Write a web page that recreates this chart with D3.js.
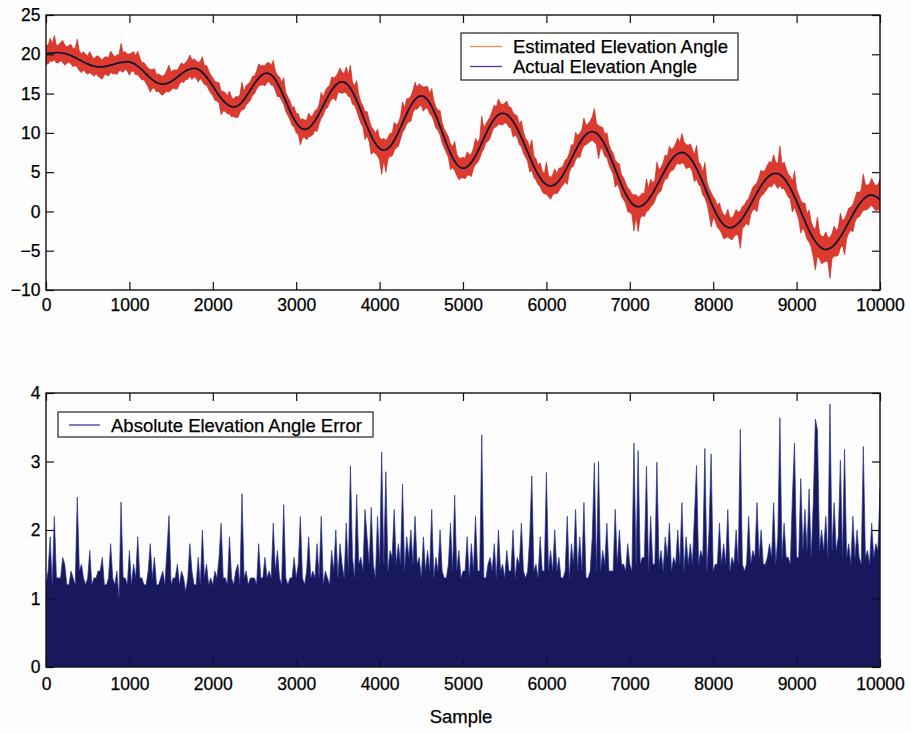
<!DOCTYPE html>
<html><head><meta charset="utf-8">
<script src="https://cdn.jsdelivr.net/npm/d3@7"></script>
<style>
body{margin:0;background:#fdfdfd}
svg text{font-family:"Liberation Sans",Arial,Helvetica,sans-serif;fill:#000;stroke:#000;stroke-width:0.25px}
</style>
</head><body>
<svg id="chart" width="911" height="734"></svg>
<script>
// ---------- data ----------
const sampleStep = 25;
const xTicks = [0,1000,2000,3000,4000,5000,6000,7000,8000,9000,10000];
const topYTicks = [-10,-5,0,5,10,15,20,25];
const bottomYTicks = [0,1,2,3,4];
const legendTop = ["Estimated Elevation Angle","Actual Elevation Angle"];
const legendBottom = ["Absolute Elevation Angle Error"];
const xLabel = "Sample";

// actual elevation angle, one value every 25 samples (0 .. 10000)
const actualAngle = [
20.10,20.12,20.15,20.17,20.19,20.20,20.20,
20.19,20.16,20.10,20.03,19.94,19.83,19.71,19.58,19.44,19.30,19.16,19.02,18.89,18.77,18.66,18.57,18.50,18.44,18.41,18.40,
18.41,18.44,18.48,18.54,18.61,18.69,18.76,18.84,18.91,18.97,19.01,19.04,19.05,
19.03,18.95,18.84,18.68,18.48,18.26,18.02,17.76,17.49,17.23,16.99,16.77,16.57,16.41,16.30,16.23,16.20,
16.22,16.29,16.39,16.53,16.70,16.89,17.10,17.30,17.51,17.70,17.87,18.01,18.11,18.18,18.20,
18.17,18.07,17.90,17.68,17.41,17.09,16.73,16.35,15.95,15.55,15.15,14.77,14.41,14.09,13.82,13.60,13.43,13.33,13.30,
13.34,13.46,13.66,13.93,14.26,14.63,15.03,15.45,15.87,16.27,16.64,16.97,17.24,17.44,17.56,17.60,
17.55,17.38,17.12,16.76,16.32,15.81,15.25,14.65,14.03,13.40,12.80,12.24,11.73,11.29,10.93,10.67,10.50,10.45,
10.50,10.63,10.86,11.16,11.53,11.96,12.44,12.95,13.48,14.00,14.51,14.99,15.42,15.79,16.09,16.32,16.45,16.50,
16.45,16.29,16.03,15.67,15.23,14.71,14.12,13.49,12.83,12.15,11.47,10.81,10.18,9.59,9.07,8.63,8.27,8.01,7.85,7.80,
7.85,8.01,8.26,8.61,9.03,9.53,10.07,10.65,11.25,11.85,12.43,12.98,13.47,13.89,14.24,14.49,14.65,14.70,
14.64,14.47,14.20,13.82,13.35,12.80,12.19,11.52,10.82,10.10,9.38,8.68,8.01,7.40,6.85,6.38,6.00,5.73,5.56,5.50,
5.55,5.69,5.92,6.24,6.63,7.09,7.59,8.14,8.71,9.29,9.86,10.41,10.91,11.37,11.76,12.08,12.31,12.45,12.50,
12.46,12.33,12.12,11.83,11.46,11.03,10.54,10.00,9.42,8.81,8.19,7.55,6.93,6.32,5.74,5.20,4.71,4.28,3.91,3.62,3.41,3.28,3.24,
3.28,3.41,3.62,3.90,4.25,4.66,5.13,5.63,6.15,6.70,7.24,7.76,8.26,8.73,9.14,9.49,9.77,9.98,10.11,10.15,
10.10,9.96,9.72,9.39,8.98,8.50,7.96,7.36,6.72,6.05,5.38,4.70,4.03,3.39,2.79,2.25,1.77,1.36,1.03,0.79,0.65,0.60,
0.64,0.75,0.94,1.20,1.52,1.90,2.33,2.79,3.28,3.79,4.31,4.82,5.31,5.78,6.20,6.58,6.90,7.16,7.35,7.46,7.50,
7.46,7.32,7.10,6.80,6.43,5.98,5.47,4.92,4.32,3.69,3.04,2.39,1.74,1.11,0.51,-0.04,-0.55,-1.00,-1.37,-1.67,-1.89,-2.03,-2.07,
-2.03,-1.93,-1.76,-1.52,-1.23,-0.88,-0.48,-0.05,0.42,0.90,1.39,1.88,2.36,2.83,3.26,3.66,4.01,4.30,4.54,4.71,4.81,4.85,
4.81,4.69,4.48,4.20,3.85,3.43,2.96,2.43,1.86,1.26,0.64,0.01,-0.62,-1.24,-1.84,-2.41,-2.94,-3.41,-3.83,-4.18,-4.46,-4.67,-4.79,-4.83,
-4.80,-4.69,-4.52,-4.28,-3.99,-3.64,-3.24,-2.81,-2.34,-1.86,-1.37,-0.88,-0.40,0.07,0.50,0.90,1.25,1.54,1.78,1.95,2.06,2.09,
2.02,1.90,1.72,1.50
];

// largest estimate excursion ABOVE the actual angle within each 25-sample bin (deg)
const errorAbove = [
1.1,1.0,1.9,1.2,2.2,0.9,1.0,1.3,1.6,1.1,0.9,1.2,1.4,1.0,1.2,2.48,1.1,0.9,1.3,1.1,
1.0,1.7,1.2,0.9,1.3,1.4,1.1,0.9,1.2,1.2,1.0,1.8,1.3,0.9,1.1,1.0,2.41,1.2,1.3,1.0,
1.0,1.2,1.5,1.1,1.9,1.3,0.9,1.2,1.1,1.0,1.1,1.3,1.6,1.0,1.2,1.1,1.0,1.2,1.7,2.21,
1.2,1.3,1.1,0.9,1.2,1.4,1.0,1.1,1.3,1.8,1.1,1.2,1.0,0.9,1.2,2.0,1.1,1.5,1.2,1.0,
1.1,1.0,1.3,1.6,0.9,1.2,1.3,1.1,1.9,1.2,1.0,1.3,1.1,1.2,2.53,1.0,1.4,1.2,1.1,1.3,
1.0,1.2,1.8,1.3,1.1,1.0,1.3,1.4,1.2,2.1,1.1,1.0,1.3,1.2,2.37,1.1,1.2,1.3,1.0,1.6,
1.2,1.5,1.0,1.3,1.2,1.1,1.9,1.2,1.1,1.3,1.0,1.2,2.2,1.1,1.4,1.3,1.0,1.7,1.2,1.1,
1.3,1.8,1.2,1.1,2.1,1.4,2.94,1.2,1.3,2.52,1.4,1.1,1.3,1.2,1.9,1.5,1.2,1.4,1.3,2.2,
1.4,1.3,1.5,1.2,1.4,1.7,1.3,2.3,1.5,1.2,1.4,2.67,1.3,1.9,1.4,1.2,1.5,2.2,1.3,1.6,
1.3,1.2,1.4,1.7,1.2,2.3,1.3,1.1,1.4,2.0,1.2,1.1,1.3,1.5,1.2,1.4,2.51,1.3,1.1,1.2,
1.4,1.2,1.9,1.3,1.1,1.4,2.2,1.2,1.1,3.39,1.3,1.3,1.2,1.1,1.4,1.8,1.2,2.0,1.3,1.1,
1.3,1.7,1.2,1.4,1.1,1.3,1.6,1.2,2.1,1.3,1.1,1.4,1.2,2.79,1.3,1.5,1.2,1.9,1.3,1.1,
2.84,1.3,1.1,1.4,2.0,1.2,1.6,1.3,1.2,1.4,1.1,1.3,1.8,1.2,2.3,1.4,1.2,1.3,2.4,1.2,
1.2,1.4,1.9,2.98,1.3,1.2,1.4,1.7,1.3,2.1,1.2,1.1,1.4,1.2,1.5,2.0,1.3,1.5,1.4,1.2,
1.4,1.2,1.3,1.5,1.2,1.4,1.6,1.3,2.93,1.4,2.2,1.3,1.2,2.99,1.5,1.3,1.4,1.9,1.2,2.1,
1.3,1.2,1.5,2.0,1.3,2.4,1.4,1.2,1.3,1.8,1.5,1.2,2.94,1.4,1.7,1.3,3.19,1.4,1.2,1.3,
1.4,1.5,1.3,2.1,1.5,1.2,1.4,2.3,1.3,1.2,1.5,2.0,1.4,1.3,1.5,1.3,1.4,1.2,1.5,1.7,
1.5,1.3,1.6,2.0,1.4,1.3,1.6,1.8,1.5,2.4,1.4,1.3,3.64,1.5,2.1,1.6,1.3,1.5,1.4,3.27,
1.6,1.5,1.4,1.7,2.3,1.5,2.6,1.6,1.4,1.5,3.46,1.7,1.5,1.6,2.2,1.5,1.4,1.7,2.4,1.6,
1.5,3.02,1.6,1.4,1.5,1.8,1.4,1.3,1.6,2.0,1.5,1.5,3.22,1.6,1.4,1.5,2.1,1.6,1.4,1.7,
2.6
];

// largest estimate excursion BELOW the actual angle within each 25-sample bin (deg)
const errorBelow = [
1.2,1.4,1.0,1.1,0.9,1.3,1.3,1.0,1.2,1.5,1.2,0.9,1.1,1.3,1.0,1.1,1.4,1.5,1.0,1.2,
1.3,1.0,1.1,1.3,0.9,1.2,1.4,1.6,1.0,1.1,1.3,0.9,1.2,1.2,1.4,1.0,1.1,1.3,0.9,1.2,
1.7,1.1,1.0,1.3,1.1,1.2,1.3,1.0,1.2,1.4,1.8,1.1,0.9,1.2,1.0,1.3,1.4,1.1,1.0,1.2,
1.1,1.0,1.3,1.5,1.1,1.0,1.3,1.1,1.2,0.9,1.4,1.1,1.2,1.6,1.0,1.1,1.3,1.0,1.2,1.3,
1.2,1.4,1.1,1.0,2.1,1.3,1.1,1.2,1.0,1.3,1.2,1.4,1.5,1.1,1.0,1.3,1.1,1.2,1.3,1.1,
1.3,1.1,1.0,1.2,1.3,1.6,1.2,1.0,1.3,1.1,1.4,1.7,1.2,1.1,1.0,1.3,1.2,1.1,1.3,1.0,
1.3,1.1,2.2,1.2,1.0,1.4,1.1,1.3,1.4,1.2,1.8,1.3,1.1,1.2,1.0,1.3,1.2,1.1,1.4,2.0,
1.2,1.3,1.5,1.3,1.2,1.4,1.1,1.6,1.2,1.3,1.5,1.6,1.4,2.3,1.2,1.3,2.33,1.5,1.3,1.2,
1.5,3.14,1.3,2.85,1.4,1.2,1.6,1.3,1.4,1.8,1.5,1.2,1.4,1.3,1.6,2.0,1.3,1.2,1.5,1.3,
1.2,1.9,1.3,1.1,1.4,1.2,1.3,1.6,1.2,1.1,1.4,1.3,1.2,1.1,2.1,1.3,1.2,1.4,1.7,1.3,
1.2,1.4,1.1,1.3,1.8,1.2,1.1,1.4,1.4,1.2,1.3,1.1,1.5,1.6,1.2,1.1,1.3,1.2,1.4,1.5,
1.2,1.1,1.4,1.2,2.0,1.3,1.1,1.5,1.2,1.4,1.3,1.2,1.9,1.1,1.4,1.2,1.3,1.1,1.4,1.4,
1.2,1.4,1.7,1.2,1.1,1.4,1.3,1.2,1.3,1.4,2.2,1.2,1.1,1.5,1.2,1.3,1.9,1.4,1.1,1.3,
1.3,1.2,1.1,1.3,1.4,3.0,1.3,1.2,1.5,1.1,1.4,1.4,1.3,2.3,1.2,1.1,1.5,1.3,1.2,1.8,
1.5,1.4,3.27,1.3,3.16,1.5,1.3,1.6,1.2,1.4,1.3,1.5,1.5,1.2,1.4,1.7,1.3,1.2,1.6,1.3,
1.4,1.6,1.3,1.2,1.5,1.3,1.4,1.9,1.5,1.2,1.4,2.2,1.3,1.5,1.2,1.6,1.3,1.4,2.0,3.11,
1.3,1.2,1.5,1.3,1.4,1.8,1.5,1.2,1.4,1.6,1.3,1.2,1.5,3.47,1.3,1.4,1.5,2.2,1.3,1.2,
1.6,2.4,1.4,1.3,1.5,1.5,1.4,1.3,1.6,1.2,1.5,1.9,1.4,1.6,1.3,1.5,1.6,1.4,2.5,1.3,
1.5,1.6,2.75,1.5,1.4,1.7,1.5,1.6,2.4,3.62,1.5,1.6,2.0,1.7,1.5,1.6,3.84,1.5,1.4,1.7,
1.9,1.4,1.5,3.18,1.6,1.4,1.5,2.2,1.4,1.3,1.6,1.5,1.4,1.6,1.7,1.5,1.3,1.6,1.8,1.5,
1.4
];

// ---------- derived ----------
const n = Math.min(actualAngle.length, errorAbove.length, errorBelow.length);
const rows = d3.range(n).map(i => ({
  sample: i * sampleStep,
  actual: actualAngle[i],
  estHigh: actualAngle[i] + errorAbove[i],
  estLow: actualAngle[i] - errorBelow[i],
  absErr: Math.max(errorAbove[i], errorBelow[i])
}));

// ---------- layout ----------
const svg = d3.select("#chart");
const L = 46, R = 880;
const top1 = 15, bot1 = 290;
const top2 = 393, bot2 = 667;
const tick = 8;

const x = d3.scaleLinear().domain([0, 10000]).range([L, R]);
const y1 = d3.scaleLinear().domain([-10, 25]).range([bot1, top1]);
const y2 = d3.scaleLinear().domain([0, 4]).range([bot2, top2]);

const defs = svg.append("defs");
defs.append("clipPath").attr("id","clip1").append("rect")
  .attr("x", L).attr("y", top1).attr("width", R-L).attr("height", bot1-top1);
defs.append("clipPath").attr("id","clip2").append("rect")
  .attr("x", L).attr("y", top2).attr("width", R-L).attr("height", bot2-top2);

// ---------- top panel ----------
const g1 = svg.append("g").attr("clip-path","url(#clip1)");
g1.append("path").datum(rows)
  .attr("fill","#dc3a2f").attr("stroke","#c92d24").attr("stroke-width",0.7)
  .attr("stroke-linejoin","bevel")
  .attr("d", d3.area().x(d => x(d.sample)).y0(d => y1(d.estLow)).y1(d => y1(d.estHigh)));
g1.append("path").datum(rows)
  .attr("fill","none").attr("stroke","#161630").attr("stroke-width",1.8)
  .attr("d", d3.line().curve(d3.curveMonotoneX).x(d => x(d.sample)).y(d => y1(d.actual)));

// ---------- bottom panel ----------
const g2 = svg.append("g").attr("clip-path","url(#clip2)");
g2.append("path").datum(rows)
  .attr("fill","#18185c").attr("stroke","#27338e").attr("stroke-width",0.7)
  .attr("stroke-linejoin","bevel")
  .attr("d", d3.area().x(d => x(d.sample)).y0(y2(0)).y1(d => y2(d.absErr)));

// ---------- axes ----------
function styleAxis(g){
  g.select(".domain").remove();
  g.selectAll(".tick line").attr("stroke","#111").attr("stroke-width",1.2);
  g.selectAll(".tick text").attr("font-size","17.5px");
}
function frame(top, bot, yScale, yTicks, xPad){
  svg.append("g").attr("transform",`translate(0,${bot})`)
    .call(d3.axisBottom(x).tickValues(xTicks).tickSizeInner(-tick).tickSizeOuter(0).tickPadding(xPad).tickFormat(d3.format("d")))
    .call(styleAxis);
  svg.append("g").attr("transform",`translate(0,${top})`)
    .call(d3.axisTop(x).tickValues(xTicks).tickSizeInner(-tick).tickSizeOuter(0).tickFormat(""))
    .call(styleAxis);
  svg.append("g").attr("transform",`translate(${L},0)`)
    .call(d3.axisLeft(yScale).tickValues(yTicks).tickSizeInner(-tick).tickSizeOuter(0).tickPadding(5.5).tickFormat(d3.format("d")))
    .call(styleAxis);
  svg.append("g").attr("transform",`translate(${R},0)`)
    .call(d3.axisRight(yScale).tickValues(yTicks).tickSizeInner(-tick).tickSizeOuter(0).tickFormat(""))
    .call(styleAxis);
  svg.append("rect").attr("x",L).attr("y",top).attr("width",R-L).attr("height",bot-top)
    .attr("fill","none").attr("stroke","#111").attr("stroke-width",1.4);
}
frame(top1, bot1, y1, topYTicks, 8.5);
frame(top2, bot2, y2, bottomYTicks, 11);

svg.append("text").attr("x",461).attr("y",723).attr("text-anchor","middle")
  .attr("font-size","18.5px").text(xLabel);

// ---------- legends ----------
const lg1 = svg.append("g");
lg1.append("rect").attr("x",461).attr("y",33).attr("width",277).attr("height",47)
  .attr("fill","#fff").attr("stroke","#222").attr("stroke-width",1.2);
const lgColors = ["#ee8e52","#5a36a8"];
legendTop.forEach((t,i) => {
  const yy = 46.5 + i*20;
  lg1.append("line").attr("x1",470).attr("x2",502).attr("y1",yy).attr("y2",yy)
    .attr("stroke",lgColors[i]).attr("stroke-width",1.3);
  lg1.append("text").attr("x",513).attr("y",yy+6.8).attr("font-size","18.5px").text(t);
});

const lg2 = svg.append("g");
lg2.append("rect").attr("x",58).attr("y",412).attr("width",315).attr("height",25)
  .attr("fill","#fff").attr("stroke","#222").attr("stroke-width",1.2);
legendBottom.forEach((t,i) => {
  lg2.append("line").attr("x1",69).attr("x2",100).attr("y1",425).attr("y2",425)
    .attr("stroke","#3a3aa0").attr("stroke-width",1.3);
  lg2.append("text").attr("x",111).attr("y",432).attr("font-size","18.5px").text(t);
});
</script>
</body></html>
